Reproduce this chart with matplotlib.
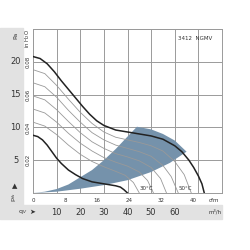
import matplotlib.pyplot as plt
import matplotlib.patches as mpatches
import matplotlib.transforms as mtransforms

# fan curves, flow in m3/h, pressure in Pa
q_max = [0, 3, 6, 9, 12, 15, 18, 21, 24, 27, 30, 35, 40, 45, 50, 55, 60, 63, 66, 68, 70, 71.5, 72.5]
p_max = [20.8, 20.5, 19.7, 18.5, 17.1, 15.8, 14.5, 13.2, 12.0, 11.0, 10.3, 9.6, 9.3, 9.0, 8.7, 8.2, 7.2, 6.3, 5.0, 3.9, 2.6, 1.4, 0]

q_min = [0, 2, 4, 6, 8, 10, 12, 15, 18, 21, 25, 30, 35, 37, 38.5, 40]
p_min = [8.8, 8.6, 8.1, 7.3, 6.3, 5.3, 4.5, 3.5, 2.8, 2.2, 1.7, 1.4, 1.1, 0.9, 0.5, 0]

# intermediate speed curves
q_mid1 = [0, 5, 10, 15, 20, 25, 30, 35, 40, 45, 50, 55, 60, 64, 67]
p_mid1 = [18.8, 18.2, 16.4, 14.3, 12.3, 10.6, 9.3, 8.5, 8.1, 7.7, 7.2, 6.4, 4.8, 2.8, 0]
q_mid2 = [0, 5, 10, 15, 20, 25, 30, 35, 40, 45, 50, 55, 58.5, 61.5]
p_mid2 = [16.8, 16.2, 14.6, 12.6, 10.8, 9.2, 8.1, 7.3, 6.8, 6.3, 5.6, 4.2, 2.5, 0]
q_mid3 = [0, 5, 10, 15, 20, 25, 30, 35, 40, 45, 50, 54, 56.5]
p_mid3 = [14.8, 14.2, 12.7, 10.9, 9.2, 7.8, 6.8, 6.0, 5.5, 4.9, 3.9, 2.2, 0]
q_mid4 = [0, 5, 10, 15, 20, 25, 30, 35, 40, 45, 48.5, 51]
p_mid4 = [12.8, 12.2, 10.8, 9.1, 7.6, 6.4, 5.4, 4.7, 4.1, 3.2, 1.9, 0]
q_mid5 = [0, 5, 10, 15, 20, 25, 30, 35, 39, 42.5, 45]
p_mid5 = [10.8, 10.2, 8.9, 7.3, 5.9, 4.8, 4.0, 3.3, 2.7, 1.6, 0]

# operating range (shaded)
q_upper = [0, 5, 10, 15, 20, 25, 30, 35, 40, 44]
p_upper = [0, 0.2, 0.6, 1.3, 2.4, 3.5, 5.0, 6.7, 8.6, 10.1]
q_arc = [44, 50, 55, 60, 65]
p_arc = [10.1, 9.7, 9.0, 8.0, 6.3]
q_lower = [65, 58, 50, 40, 30, 20, 10, 0]
p_lower = [6.3, 4.6, 3.2, 1.95, 1.2, 0.65, 0.2, 0]

pa_ticks = [5, 10, 15, 20]
inh2o_ticks = [0.02, 0.04, 0.06, 0.08]
cfm_ticks = [0, 8, 16, 24, 32, 40]
m3h_ticks = [10, 20, 30, 40, 50, 60]

txt = '#333333'
band = '#e2e2e2'

fig = plt.figure(figsize=(2.5, 2.5), dpi=100)
fig.patches.append(mpatches.Rectangle((0, 0.18), 0.092, 0.708, transform=fig.transFigure,
                                      color=band, zorder=-5))
fig.patches.append(mpatches.Rectangle((0, 0.124), 0.888, 0.056, transform=fig.transFigure,
                                      color=band, zorder=-5))

ax = fig.add_axes([0.132, 0.228, 0.756, 0.656])
ax.set_xlim(0, 80)
ax.set_ylim(0, 25)
ax.set_xticks(range(0, 81, 10))
ax.set_yticks(range(0, 26, 5))
ax.grid(True, color='#9a9a9a', lw=0.7)
ax.tick_params(length=0, labelbottom=False, labelleft=False)
for s in ax.spines.values():
    s.set_color('#9a9a9a')
    s.set_linewidth(0.7)

shade_q = q_upper + q_arc[1:] + q_lower[1:]
shade_p = p_upper + p_arc[1:] + p_lower[1:]
ax.fill(shade_q, shade_p, color='#7592ab', lw=0, zorder=2)

for q, p in [(q_mid1, p_mid1), (q_mid2, p_mid2), (q_mid3, p_mid3),
             (q_mid4, p_mid4), (q_mid5, p_mid5)]:
    ax.plot(q, p, color='#999999', lw=0.6, zorder=3)
ax.plot(q_max, p_max, color='#222222', lw=1.1, zorder=4)
ax.plot(q_min, p_min, color='#222222', lw=1.1, zorder=4)

ax.text(45, 0.5, '30°C', fontsize=4, color=txt, zorder=5)
ax.text(61.5, 0.5, '50°C', fontsize=4, color=txt, zorder=5)
ax.text(76, 24, '3412  NGMV', fontsize=4, color=txt, ha='right', va='top')

# left side labels
ty = mtransforms.blended_transform_factory(fig.transFigure, ax.transData)
for v in pa_ticks:
    fig.text(0.062, 0, str(v), transform=ty, fontsize=6, color=txt, ha='center', va='center').set_y(v)
for v in inh2o_ticks:
    ax.text(0.112, v * 249.09, '%.2f' % v, transform=ty, fontsize=4, color=txt,
            ha='center', va='center', rotation=90)
fig.text(0.062, 0.86, 'Pa', fontsize=4.5, color=txt, ha='center', va='center', rotation=90)
fig.text(0.112, 0.845, 'in H$_2$O', fontsize=4, color=txt, ha='center', va='center', rotation=90)
fig.text(0.058, 0.255, '▲', fontsize=5, color=txt, ha='center', va='center')
fig.text(0.058, 0.21, 'p$_{fs}$', fontsize=4.5, color=txt, ha='center', va='center', rotation=90)

# bottom labels
tx = mtransforms.blended_transform_factory(ax.transData, fig.transFigure)
for v in cfm_ticks:
    ax.text(v * 1.699, 0.2, str(v), transform=tx, fontsize=4, color=txt, ha='center', va='center')
ax.text(76.5, 0.2, 'cfm', transform=tx, fontsize=4, color=txt, ha='center', va='center')
for v in m3h_ticks:
    fig.text(v, 0.151, str(v), transform=tx, fontsize=6, color=txt, ha='center', va='center')
fig.text(77, 0.151, 'm³/h', transform=tx, fontsize=4, color=txt, ha='center', va='center')
fig.text(0.09, 0.151, 'q$_V$', fontsize=4.5, color=txt, ha='center', va='center')
fig.text(0.128, 0.151, '➤', fontsize=5, color=txt, ha='center', va='center')

fig.savefig('out.png', dpi=100)
